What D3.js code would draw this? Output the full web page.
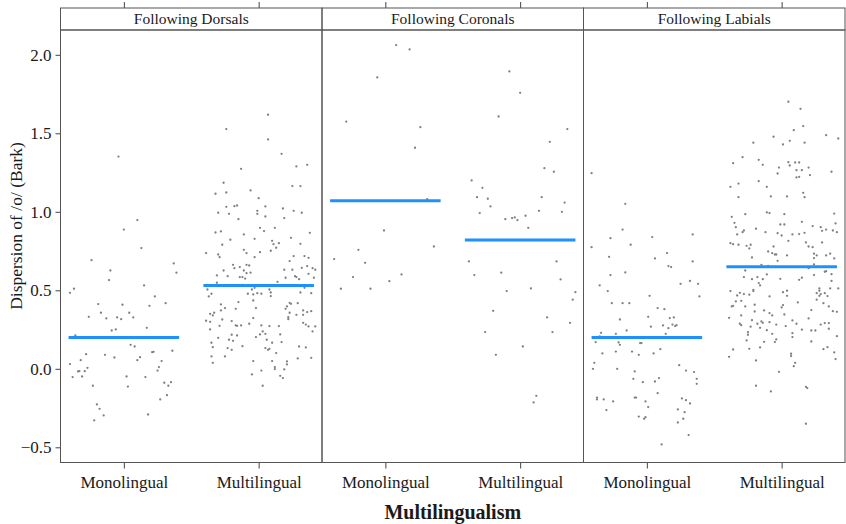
<!DOCTYPE html>
<html>
<head>
<meta charset="utf-8">
<script src="https://cdn.jsdelivr.net/npm/d3@7"></script>
<style>
  body { margin: 0; background: #fff; }
  svg { display: block; }
  text { font-family: "Liberation Serif", "Times New Roman", serif; fill: #1a1a1a; }
</style>
</head>
<body>
<svg id="chart" width="846" height="524"></svg>
<script>
// facets and categories
const facets = ["Following Dorsals", "Following Coronals", "Following Labials"];
const groups = ["Monolingual", "Multilingual"];
const yTicks = [-0.5, 0.0, 0.5, 1.0, 1.5, 2.0];

// group means, per facet [Monolingual, Multilingual]
const means = [[0.20, 0.53], [1.07, 0.82], [0.20, 0.65]];

// points as [jitter, dispersion]
const dorsalsMono = [
  [-0.04,1.352],[0.10,0.947],[0.00,0.887],[0.13,0.769],[-0.24,0.692],[0.37,0.671],[0.39,0.612],[-0.10,0.626],
  [-0.11,0.565],[0.15,0.531],[-0.40,0.484],[-0.37,0.510],[0.23,0.461],[0.31,0.418],[-0.19,0.412],[-0.01,0.408],
  [0.19,0.401],[-0.17,0.357],[0.04,0.357],[-0.26,0.331],[-0.13,0.321],[-0.05,0.327],[-0.02,0.316],[0.07,0.327],
  [0.17,0.261],[-0.09,0.244],[-0.06,0.251],[-0.36,0.212],[0.05,0.153],[0.08,0.142],[-0.28,0.093],[-0.14,0.089],
  [0.21,0.106],[0.22,0.108],[0.36,0.115],[-0.07,0.072],[0.12,0.074],[0.10,0.055],[0.28,0.049],[-0.40,0.030],
  [-0.32,0.055],[0.26,0.011],[-0.27,0.006],[0.25,-0.011],[-0.34,-0.017],[-0.33,-0.015],[-0.29,-0.015],[-0.38,-0.053],
  [-0.31,-0.049],[0.02,-0.049],[0.16,-0.053],[-0.23,-0.108],[0.03,-0.113],[0.30,-0.089],[0.35,-0.085],[0.33,-0.108],
  [0.32,-0.168],[0.27,-0.195],[-0.20,-0.227],[-0.18,-0.255],[-0.22,-0.329],[-0.15,-0.297],[0.18,-0.291]
];
const dorsalsMulti = [
  [0.07,1.618],[-0.24,1.527],[0.07,1.461],[0.17,1.369],[-0.13,1.274],[0.28,1.289],[0.36,1.299],[-0.26,1.185],
  [0.25,1.164],[0.31,1.164],[-0.32,1.115],[-0.24,1.123],[-0.06,1.136],[0.00,1.087],[-0.24,1.032],[-0.18,1.036],
  [-0.16,1.040],[0.05,1.034],[0.18,1.021],[-0.30,0.994],[-0.22,0.987],[-0.01,1.006],[-0.01,0.987],[0.05,0.970],
  [0.26,1.006],[0.32,0.994],[-0.15,0.953],[0.19,0.960],[0.01,0.898],[0.04,0.877],[0.12,0.898],[-0.32,0.868],
  [-0.28,0.875],[-0.11,0.856],[0.38,0.866],[-0.21,0.822],[-0.03,0.828],[0.24,0.834],[-0.27,0.790],[0.10,0.815],
  [0.11,0.794],[0.13,0.771],[0.15,0.800],[0.31,0.796],[-0.11,0.758],[-0.09,0.737],[0.01,0.743],[0.09,0.752],
  [-0.39,0.737],[-0.30,0.728],[-0.29,0.711],[-0.03,0.711],[0.26,0.718],[0.34,0.718],[0.37,0.707],[0.23,0.686],
  [-0.19,0.662],[-0.18,0.641],[-0.14,0.648],[-0.09,0.662],[-0.07,0.658],[-0.26,0.626],[-0.11,0.626],[-0.09,0.609],
  [-0.06,0.612],[0.19,0.631],[0.25,0.631],[0.32,0.643],[0.36,0.654],[0.40,0.641],[0.42,0.631],[0.37,0.605],
  [-0.31,0.595],[-0.23,0.590],[-0.14,0.584],[-0.12,0.584],[-0.10,0.575],[0.20,0.580],[0.27,0.590],[0.28,0.584],
  [0.30,0.571],[0.41,0.580],[-0.31,0.548],[0.14,0.554],[-0.12,0.535],[-0.38,0.505],[-0.05,0.505],[-0.03,0.516],
  [0.08,0.505],[0.34,0.516],[-0.37,0.461],[-0.35,0.478],[-0.08,0.478],[-0.04,0.474],[-0.01,0.482],[0.02,0.478],
  [0.09,0.486],[0.09,0.463],[0.31,0.486],[0.39,0.482],[-0.15,0.425],[-0.04,0.435],[0.23,0.420],[0.24,0.414],
  [0.29,0.418],[-0.28,0.410],[-0.25,0.387],[-0.17,0.382],[-0.02,0.387],[0.21,0.397],[0.20,0.382],[-0.28,0.372],
  [0.33,0.372],[0.36,0.361],[0.39,0.367],[-0.36,0.350],[-0.33,0.357],[-0.34,0.340],[0.23,0.357],[0.28,0.344],
  [0.33,0.344],[0.22,0.329],[0.22,0.316],[-0.04,0.323],[-0.27,0.314],[-0.39,0.306],[-0.36,0.299],[-0.20,0.304],
  [-0.07,0.287],[-0.17,0.276],[-0.16,0.274],[-0.13,0.276],[-0.29,0.274],[0.02,0.276],[0.08,0.272],[0.15,0.272],
  [0.33,0.293],[0.35,0.282],[0.37,0.270],[0.42,0.270],[-0.36,0.251],[0.40,0.238],[0.03,0.238],[0.05,0.223],
  [0.01,0.219],[0.16,0.219],[-0.20,0.217],[-0.16,0.212],[-0.02,0.202],[-0.30,0.197],[-0.22,0.185],[-0.19,0.178],
  [0.06,0.185],[0.17,0.170],[0.10,0.166],[-0.35,0.166],[-0.34,0.138],[-0.12,0.144],[-0.23,0.132],[-0.20,0.121],
  [0.05,0.132],[0.07,0.121],[0.08,0.127],[0.13,0.100],[0.30,0.142],[0.35,0.136],[-0.35,0.079],[-0.25,0.079],
  [0.39,0.070],[0.29,0.066],[-0.34,0.038],[-0.04,0.049],[0.10,0.049],[0.21,0.047],[0.21,0.028],[0.12,0.011],
  [0.12,-0.002],[0.19,-0.004],[0.02,-0.011],[-0.05,-0.036],[0.16,-0.045],[0.18,-0.059],[0.03,-0.108]
];
const coronalsMono = [
  [0.08,2.062],[0.18,2.034],[-0.06,1.856],[-0.29,1.575],[0.26,1.539],[0.22,1.408],[0.31,1.081],[-0.01,0.881],
  [0.36,0.779],[-0.20,0.758],[-0.38,0.699],[-0.15,0.675],[-0.24,0.584],[0.12,0.601],[0.03,0.558],[-0.33,0.510],
  [-0.11,0.510]
];
const coronalsMulti = [
  [-0.08,1.894],[0.00,1.758],[-0.16,1.607],[0.35,1.527],[0.22,1.446],[0.18,1.278],[0.25,1.255],[-0.36,1.200],
  [-0.28,1.153],[-0.32,1.093],[-0.24,1.083],[0.16,1.093],[-0.22,1.034],[0.33,1.059],[-0.30,0.992],[0.14,1.006],
  [0.31,1.000],[-0.11,0.953],[-0.06,0.960],[-0.04,0.964],[-0.02,0.947],[0.04,0.975],[0.06,0.898],[-0.38,0.684],
  [0.27,0.684],[-0.34,0.597],[-0.14,0.612],[0.30,0.569],[0.08,0.512],[-0.10,0.495],[0.41,0.488],[0.39,0.440],
  [-0.20,0.369],[0.20,0.327],[0.37,0.293],[-0.26,0.234],[0.24,0.234],[0.02,0.142],[-0.18,0.089],[0.12,-0.172],
  [0.10,-0.214]
];
const labialsMono = [
  [-0.41,1.246],[-0.16,1.051],[-0.18,0.887],[-0.27,0.832],[0.04,0.839],[0.34,0.856],[-0.41,0.775],[-0.12,0.790],
  [0.15,0.737],[-0.28,0.713],[0.06,0.703],[0.34,0.684],[0.16,0.654],[0.18,0.648],[-0.16,0.614],[-0.27,0.597],
  [0.25,0.541],[0.32,0.560],[0.38,0.541],[-0.35,0.531],[-0.29,0.495],[0.02,0.465],[0.39,0.461],[-0.26,0.418],
  [-0.18,0.418],[-0.13,0.418],[0.08,0.387],[0.13,0.380],[0.01,0.331],[0.17,0.323],[0.20,0.327],[-0.20,0.314],
  [0.03,0.268],[0.12,0.276],[0.19,0.282],[0.21,0.272],[0.22,0.278],[0.16,0.259],[-0.15,0.244],[-0.34,0.229],
  [-0.35,0.206],[-0.23,0.223],[0.14,0.223],[-0.38,0.170],[-0.21,0.168],[-0.20,0.153],[-0.05,0.164],[-0.04,0.164],
  [0.10,0.125],[-0.33,0.098],[-0.23,0.110],[-0.11,0.110],[-0.06,0.089],[0.05,0.098],[-0.39,0.038],[-0.40,0.000],
  [-0.22,0.000],[-0.09,-0.017],[0.24,0.023],[0.29,-0.011],[0.35,-0.021],[-0.10,-0.064],[-0.03,-0.085],[0.06,-0.081],
  [0.09,-0.059],[0.37,-0.064],[0.37,-0.096],[0.08,-0.155],[-0.37,-0.183],[-0.37,-0.195],[-0.32,-0.195],[-0.25,-0.208],
  [-0.09,-0.183],[-0.08,-0.183],[-0.01,-0.208],[0.26,-0.189],[0.29,-0.200],[0.32,-0.221],[-0.30,-0.263],[0.01,-0.244],
  [0.23,-0.259],[0.28,-0.276],[-0.06,-0.304],[-0.02,-0.318],[-0.01,-0.308],[0.27,-0.318],[0.23,-0.342],[0.31,-0.422],
  [0.11,-0.482]
];
const labialsMulti = [
  [0.05,1.701],[0.14,1.656],[0.09,1.520],[0.16,1.546],[0.33,1.488],[0.42,1.467],[-0.06,1.478],[-0.21,1.440],
  [0.01,1.429],[0.06,1.452],[0.17,1.440],[-0.29,1.348],[-0.36,1.310],[-0.17,1.331],[-0.14,1.299],[0.05,1.316],
  [0.10,1.314],[0.13,1.314],[0.06,1.295],[-0.02,1.282],[-0.03,1.244],[0.11,1.265],[0.15,1.265],[0.20,1.282],
  [0.21,1.234],[0.37,1.255],[0.11,1.219],[0.13,1.223],[-0.17,1.195],[-0.38,1.159],[-0.32,1.180],[-0.11,1.159],
  [0.16,1.121],[0.17,1.093],[-0.32,1.093],[-0.08,1.098],[0.04,1.098],[-0.11,0.996],[-0.09,0.992],[-0.27,0.985],
  [0.02,0.985],[0.39,0.989],[-0.37,0.968],[0.15,0.936],[0.40,0.926],[-0.35,0.930],[-0.34,0.902],[-0.01,0.919],
  [0.02,0.919],[0.23,0.909],[0.29,0.902],[0.33,0.887],[0.30,0.879],[0.38,0.881],[0.41,0.870],[-0.29,0.870],
  [-0.28,0.881],[-0.19,0.892],[-0.12,0.870],[-0.03,0.864],[0.00,0.849],[0.08,0.856],[0.13,0.858],[0.17,0.866],
  [-0.33,0.856],[0.05,0.815],[0.18,0.805],[0.30,0.805],[-0.38,0.800],[-0.36,0.794],[-0.32,0.790],[-0.26,0.783],
  [-0.23,0.790],[-0.24,0.767],[0.20,0.779],[0.23,0.775],[-0.06,0.779],[-0.10,0.747],[-0.07,0.737],[-0.05,0.728],
  [-0.04,0.728],[0.04,0.722],[0.24,0.733],[0.26,0.722],[0.33,0.722],[0.36,0.733],[-0.22,0.709],[0.24,0.705],
  [0.39,0.703],[-0.03,0.688],[0.24,0.665],[-0.15,0.662],[-0.10,0.656],[0.20,0.641],[-0.27,0.626],[0.32,0.618],
  [0.33,0.622],[0.24,0.597],[-0.18,0.584],[-0.11,0.601],[-0.28,0.584],[-0.22,0.571],[-0.14,0.571],[-0.01,0.573],
  [0.13,0.567],[0.15,0.580],[0.37,0.603],[0.37,0.560],[-0.17,0.546],[-0.16,0.531],[-0.21,0.503],[-0.21,0.495],
  [0.01,0.488],[0.04,0.497],[0.28,0.512],[0.28,0.497],[0.36,0.512],[0.42,0.512],[-0.38,0.495],[-0.31,0.484],
  [-0.33,0.467],[-0.28,0.476],[0.26,0.482],[0.29,0.476],[0.32,0.482],[0.28,0.465],[0.34,0.463],[-0.09,0.461],
  [0.04,0.465],[-0.30,0.433],[-0.34,0.429],[-0.24,0.472],[0.26,0.440],[0.31,0.418],[-0.37,0.397],[-0.36,0.401],
  [-0.27,0.397],[-0.20,0.408],[0.01,0.406],[0.00,0.391],[0.12,0.423],[0.35,0.397],[0.38,0.367],[0.41,0.363],
  [-0.20,0.365],[-0.13,0.372],[-0.09,0.355],[-0.07,0.340],[0.02,0.346],[0.22,0.374],[-0.30,0.340],[-0.39,0.325],
  [-0.22,0.310],[-0.15,0.302],[-0.14,0.293],[0.08,0.308],[0.20,0.321],[-0.31,0.287],[-0.30,0.278],[-0.18,0.287],
  [-0.09,0.297],[-0.04,0.282],[0.11,0.287],[0.29,0.282],[0.32,0.291],[0.35,0.291],[-0.23,0.268],[-0.16,0.261],
  [-0.11,0.246],[0.03,0.272],[0.15,0.249],[0.22,0.244],[0.25,0.244],[0.35,0.255],[-0.25,0.234],[-0.25,0.217],
  [0.08,0.227],[-0.07,0.223],[0.41,0.208],[0.08,0.202],[-0.26,0.181],[-0.13,0.172],[-0.05,0.170],[-0.04,0.187],
  [0.22,0.174],[-0.16,0.136],[-0.24,0.127],[-0.36,0.123],[0.31,0.125],[0.34,0.138],[0.39,0.104],[0.07,0.096],
  [0.07,0.081],[-0.39,0.076],[0.40,0.062],[-0.19,0.053],[0.10,0.038],[0.09,0.017],[-0.02,-0.019],[-0.19,-0.108],
  [-0.08,-0.144],[0.18,-0.115],[0.19,-0.123],[0.18,-0.350]
];
const points = [[dorsalsMono, dorsalsMulti], [coronalsMono, coronalsMulti], [labialsMono, labialsMulti]];

const svg = d3.select("#chart");
const left = 60.5, right = 845, stripTop = 8, stripH = 22, bottom = 462.5;
const panelW = (right - left) / facets.length;
const plotTop = stripTop + stripH;

const y = d3.scaleLinear().domain([-0.5, 2.0]).range([447.3, 54.8]);

/// y axis on the left
svg.append("g")
  .attr("transform", "translate(" + left + ",0)")
  .call(d3.axisLeft(y).tickValues(yTicks).tickFormat(d3.format(".1f")).tickSize(5).tickSizeOuter(0))
  .call(g => g.select(".domain").remove())
  .call(g => g.selectAll("line").attr("stroke", "#444"))
  .call(g => g.selectAll("text").attr("font-size", 17).attr("x", -9).attr("fill", "#1a1a1a")
    .attr("font-family", "Liberation Serif"));

facets.forEach((f, i) => {
  const x0 = left + i * panelW;
  const x = d3.scaleLinear().domain([0.53, 2.47]).range([x0, x0 + panelW]);
  const g = svg.append("g");

  // bottom and top axes
  g.append("g")
    .attr("transform", "translate(0," + bottom + ")")
    .call(d3.axisBottom(x).tickValues([1, 2]).tickFormat(d => groups[d - 1]).tickSize(6).tickSizeOuter(0))
    .call(a => a.select(".domain").remove())
    .call(a => a.selectAll("line").attr("stroke", "#444"))
    .call(a => a.selectAll("text").attr("font-size", 17).attr("dy", "0.95em").attr("fill", "#1a1a1a")
      .attr("font-family", "Liberation Serif"));
  g.append("g")
    .attr("transform", "translate(0," + stripTop + ")")
    .call(d3.axisTop(x).tickValues([1, 2]).tickFormat("").tickSize(6).tickSizeOuter(0))
    .call(a => a.select(".domain").remove())
    .call(a => a.selectAll("line").attr("stroke", "#444"));

  // points
  groups.forEach((grp, k) => {
    g.selectAll(null)
      .data(points[i][k])
      .enter().append("circle")
      .attr("cx", d => x(k + 1 + d[0]))
      .attr("cy", d => y(d[1]))
      .attr("r", 1.15)
      .attr("fill", "#808080");
  });

  // mean lines
  g.selectAll(null)
    .data(means[i])
    .enter().append("line")
    .attr("x1", (d, k) => x(k + 1 - 0.41))
    .attr("x2", (d, k) => x(k + 1 + 0.41))
    .attr("y1", d => y(d))
    .attr("y2", d => y(d))
    .attr("stroke", "#1e90ff")
    .attr("stroke-width", 3);

  // strip + frame
  g.append("rect")
    .attr("x", x0).attr("y", stripTop).attr("width", panelW).attr("height", stripH)
    .attr("fill", "none").attr("stroke", "#555");
  g.append("rect")
    .attr("x", x0).attr("y", plotTop).attr("width", panelW).attr("height", bottom - plotTop)
    .attr("fill", "none").attr("stroke", "#555");
  g.append("text")
    .attr("x", x0 + panelW / 2).attr("y", stripTop + 16)
    .attr("text-anchor", "middle").attr("font-size", 15.5)
    .text(f);
});

/// axis titles
svg.append("text")
  .attr("transform", "translate(22,226) rotate(-90)")
  .attr("text-anchor", "middle").attr("font-size", 17.5)
  .text("Dispersion of /o/ (Bark)");
svg.append("text")
  .attr("x", (left + right) / 2).attr("y", 519)
  .attr("text-anchor", "middle").attr("font-size", 20).attr("font-weight", "bold")
  .text("Multilingualism");
</script>
</body>
</html>
